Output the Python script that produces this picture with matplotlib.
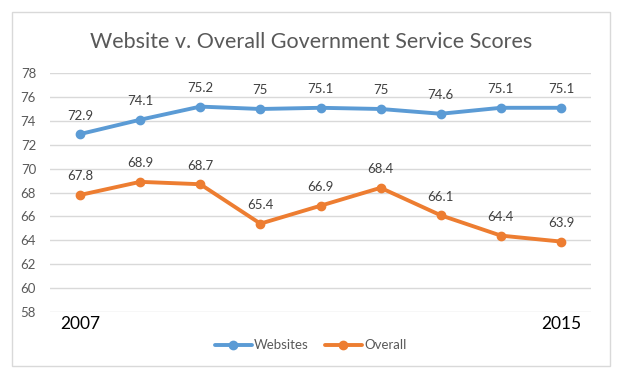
import matplotlib
matplotlib.use("Agg")
import matplotlib.pyplot as plt
from matplotlib.patches import Rectangle

plt.rcParams['font.family'] = ['Lato', 'DejaVu Sans']

years = ['2007', '2008', '2009', '2010', '2011', '2012', '2013', '2014', '2015']
websites = [72.9, 74.1, 75.2, 75.0, 75.1, 75.0, 74.6, 75.1, 75.1]
overall = [67.8, 68.9, 68.7, 65.4, 66.9, 68.4, 66.1, 64.4, 63.9]
web_labels = ['72.9', '74.1', '75.2', '75', '75.1', '75', '74.6', '75.1', '75.1']
ovr_labels = ['67.8', '68.9', '68.7', '65.4', '66.9', '68.4', '66.1', '64.4', '63.9']
xtick_labels = ['2007', '', '', '', '', '', '', '', '2015']
yticks = [58, 60, 62, 64, 66, 68, 70, 72, 74, 76, 78]

blue = '#5B9BD5'
orange = '#ED7D31'
gray = '#595959'

fig = plt.figure(figsize=(6.25, 3.81), dpi=100)
fig.patches.append(Rectangle((0.019, 0.039), 0.957, 0.930, transform=fig.transFigure,
                             fill=False, edgecolor='#D9D9D9', linewidth=1.0))
ax = fig.add_axes([0.08, 0.181, 0.8656, 0.627])

x = list(range(len(years)))
ax.plot(x, websites, color=blue, linewidth=2.8, marker='o', markersize=6, label='Websites',
        solid_capstyle='round', zorder=3)
ax.plot(x, overall, color=orange, linewidth=2.8, marker='o', markersize=6, label='Overall',
        solid_capstyle='round', zorder=3)

for xi, v, t in zip(x, websites, web_labels):
    ax.annotate(t, (xi, v), xytext=(0, 9), textcoords='offset points', ha='center',
                va='bottom', fontsize=9.5, color='#404040')
for xi, v, t in zip(x, overall, ovr_labels):
    ax.annotate(t, (xi, v), xytext=(0, 9), textcoords='offset points', ha='center',
                va='bottom', fontsize=9.5, color='#404040')

ax.set_xlim(-0.5, len(years) - 0.5)
ax.set_ylim(58, 78)
ax.set_yticks(yticks)
ax.set_yticklabels([str(t) for t in yticks], fontsize=9.5, color=gray)
ax.set_xticks(x)
ax.set_xticklabels(xtick_labels, fontsize=12.5, color='black')
ax.tick_params(axis='both', length=0)
ax.tick_params(axis='x', pad=3)
ax.tick_params(axis='y', pad=10)
ax.grid(axis='y', color='#D9D9D9', linewidth=1.0)
ax.set_axisbelow(True)
for s in ax.spines.values():
    s.set_visible(False)

fig.text(0.497, 0.89, 'Website v. Overall Government Service Scores', ha='center',
         va='center', fontsize=15.5, color=gray)

leg = fig.legend(loc='center', bbox_to_anchor=(0.497, 0.094), ncol=2, frameon=False,
                 fontsize=9.5, handlelength=2.8, columnspacing=1.2, handletextpad=0.2)
for t in leg.get_texts():
    t.set_color(gray)

fig.savefig('out.png', dpi=100)
